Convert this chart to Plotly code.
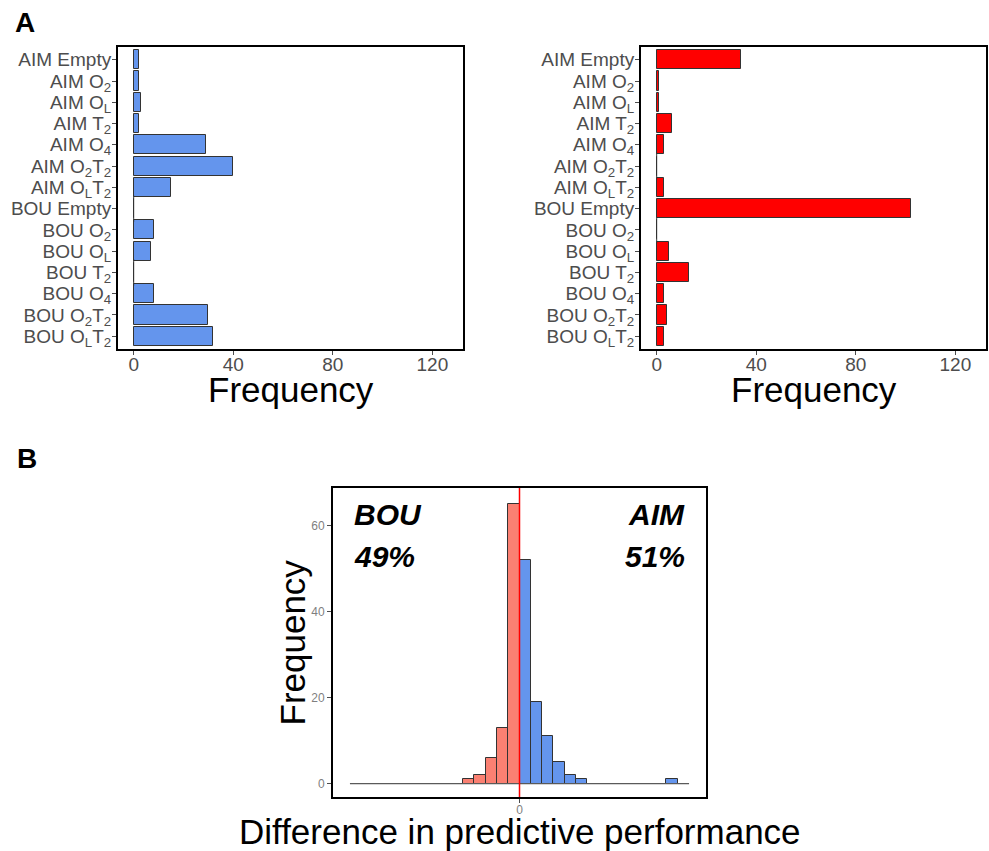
import plotly.graph_objects as go

# ---------------- data ----------------
categories = [
    "AIM Empty", "AIM O<sub>2</sub>", "AIM O<sub>L</sub>", "AIM T<sub>2</sub>",
    "AIM O<sub>4</sub>", "AIM O<sub>2</sub>T<sub>2</sub>", "AIM O<sub>L</sub>T<sub>2</sub>",
    "BOU Empty", "BOU O<sub>2</sub>", "BOU O<sub>L</sub>", "BOU T<sub>2</sub>",
    "BOU O<sub>4</sub>", "BOU O<sub>2</sub>T<sub>2</sub>", "BOU O<sub>L</sub>T<sub>2</sub>",
]
freq_left = [2, 2, 3, 2, 29, 40, 15, 0, 8, 7, 0, 8, 30, 32]
freq_right = [34, 1, 1, 6, 3, 0, 3, 102, 0, 5, 13, 3, 4, 3]
freq_ticks = [0, 40, 80, 120]

# histogram of difference in predictive performance (bin units, 30 bins)
hist_bin_left = list(range(-15, 15))
hist_counts = [0] * 10 + [1, 2, 6, 13, 65, 52, 19, 11, 5, 2, 1] + [0] * 7 + [1, 0]
hist_yticks = [0, 20, 40, 60]
pct_bou = "49%"
pct_aim = "51%"

# ---------------- styling ----------------
FONT = "Liberation Sans, Arial, sans-serif"
BLUE = "#6495ED"
RED = "#FF0000"
SALMON = "#FA8072"
OUTLINE = "#333333"
W, H = 989, 851


def xd(a, b):
    return [a / W, b / W]


def yd(top, bottom):
    return [1 - bottom / H, 1 - top / H]


def py(p):
    return 1 - p / H


def px(p):
    return p / W


fig = go.Figure()

# Panel A bars
for vals, color, xa, ya in [(freq_left, BLUE, "x", "y"), (freq_right, RED, "x2", "y2")]:
    fig.add_trace(go.Bar(
        x=vals, y=categories, orientation="h", width=0.9,
        marker=dict(color=color, line=dict(color=OUTLINE, width=1)),
        xaxis=xa, yaxis=ya, showlegend=False, hoverinfo="x+y",
    ))
    zero_cats = [c for c, v in zip(categories, vals) if v == 0]
    zero_vals = [v for v in vals if v == 0]
    fig.add_trace(go.Scatter(
        x=zero_vals, y=zero_cats, mode="markers",
        marker=dict(symbol="line-ns", size=19, line=dict(color=OUTLINE, width=1)),
        xaxis=xa, yaxis=ya, showlegend=False, hoverinfo="skip",
    ))

# Panel B histogram
centers = [b + 0.5 for b in hist_bin_left]
fig.add_trace(go.Scatter(
    x=[min(hist_bin_left), max(hist_bin_left) + 1], y=[0, 0], mode="lines",
    line=dict(color="#5a5a5a", width=1.2), xaxis="x3", yaxis="y3",
    showlegend=False, hoverinfo="skip",
))
neg = [(c, n) for c, n in zip(centers, hist_counts) if c < 0 and n > 0]
pos = [(c, n) for c, n in zip(centers, hist_counts) if c > 0 and n > 0]
for pts, color in [(neg, SALMON), (pos, BLUE)]:
    fig.add_trace(go.Bar(
        x=[p[0] for p in pts], y=[p[1] for p in pts], width=1,
        marker=dict(color=color, line=dict(color=OUTLINE, width=1)),
        xaxis="x3", yaxis="y3", showlegend=False,
    ))

fig.add_shape(type="line", xref="x3", yref="y3 domain", x0=0, x1=0, y0=0, y1=1,
              line=dict(color=RED, width=1.5))

axis_common = dict(showline=True, mirror=True, linecolor="black", linewidth=2,
                   showgrid=False, zeroline=False, ticks="outside", ticklen=4,
                   tickcolor="#4d4d4d", automargin=False)

cat_axis = dict(type="category", categoryarray=categories, tickmode="array",
                tickvals=categories, ticktext=categories, range=[13.6, -0.6],
                tickfont=dict(size=19, color="#4d4d4d"), ticklabelstandoff=-3)

fig.update_layout(
    width=W, height=H, margin=dict(l=0, r=0, t=0, b=0),
    plot_bgcolor="white", paper_bgcolor="white",
    font=dict(family=FONT, color="#4d4d4d"),
    bargap=0,
    xaxis=dict(domain=xd(118, 463), range=[-6.3, 132.3], tickvals=freq_ticks,
               tickfont=dict(size=19, color="#4d4d4d"), anchor="y",
               ticklabelstandoff=-7, **axis_common),
    yaxis=dict(domain=yd(47, 349), anchor="x", **cat_axis, **axis_common),
    xaxis2=dict(domain=xd(641, 986), range=[-6.3, 132.3], tickvals=freq_ticks,
                tickfont=dict(size=19, color="#4d4d4d"), anchor="y2",
                ticklabelstandoff=-7, **axis_common),
    yaxis2=dict(domain=yd(47, 349), anchor="x2", **cat_axis, **axis_common),
    xaxis3=dict(domain=xd(333, 706), range=[-16.5, 16.5], tickvals=[0], ticktext=["0"],
                tickfont=dict(size=12, color="#7f7f7f"), anchor="y3",
                ticklabelstandoff=-3, **axis_common),
    yaxis3=dict(domain=yd(488, 797), range=[-3.1, 68.8], tickvals=hist_yticks,
                tickfont=dict(size=12, color="#7f7f7f"), anchor="x3", **axis_common),
)

# axis titles
title_font = dict(family=FONT, size=35, color="black")
fig.add_annotation(text="Frequency", x=0.5, xref="x domain", y=py(389), yref="paper",
                   showarrow=False, font=title_font, xanchor="center", yanchor="middle")
fig.add_annotation(text="Frequency", x=0.5, xref="x2 domain", y=py(389), yref="paper",
                   showarrow=False, font=title_font, xanchor="center", yanchor="middle")
fig.add_annotation(text="Difference in predictive performance", x=0.5, xref="x3 domain",
                   y=py(831), yref="paper", showarrow=False, font=title_font,
                   xanchor="center", yanchor="middle")
fig.add_annotation(text="Frequency", x=px(292), xref="paper", y=0.5, yref="y3 domain",
                   showarrow=False, font=title_font, textangle=-90, xanchor="center",
                   yanchor="middle")

ann_font = dict(family=FONT, size=30, color="black")
fig.add_annotation(text="<b><i>BOU</i></b>", x=-14.8, y=62.6, xref="x3", yref="y3",
                   xanchor="left", yanchor="middle", showarrow=False, font=ann_font)
fig.add_annotation(text="<b><i>" + pct_bou + "</i></b>", x=-14.8, y=52.8, xref="x3", yref="y3",
                   xanchor="left", yanchor="middle", showarrow=False, font=ann_font)
fig.add_annotation(text="<b><i>AIM</i></b>", x=14.8, y=62.6, xref="x3", yref="y3",
                   xanchor="right", yanchor="middle", showarrow=False, font=ann_font)
fig.add_annotation(text="<b><i>" + pct_aim + "</i></b>", x=14.8, y=52.8, xref="x3", yref="y3",
                   xanchor="right", yanchor="middle", showarrow=False, font=ann_font)

# panel letters
letter_font = dict(family=FONT, size=28, color="black")
fig.add_annotation(text="<b>A</b>", x=px(25), y=py(23), xref="paper", yref="paper",
                   xanchor="center", yanchor="middle", showarrow=False, font=letter_font)
fig.add_annotation(text="<b>B</b>", x=px(27), y=py(458), xref="paper", yref="paper",
                   xanchor="center", yanchor="middle", showarrow=False, font=letter_font)

fig.write_html("out.html", config={"displayModeBar": False},
               post_script="document.body.style.margin='0';document.body.style.overflow='hidden';")
